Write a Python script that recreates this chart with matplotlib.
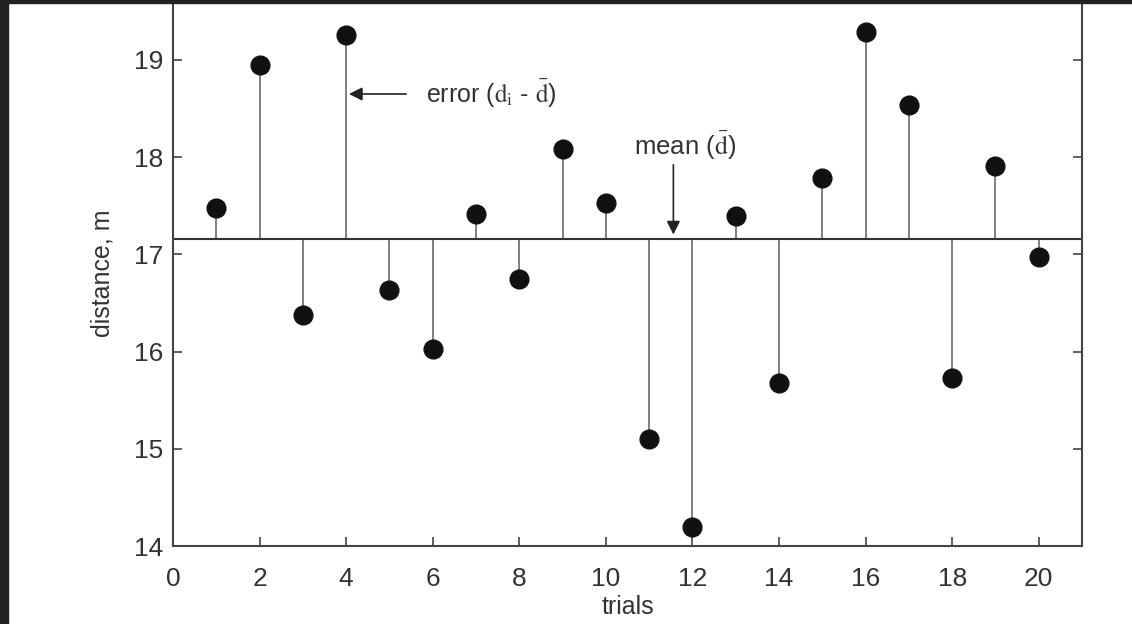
import numpy as np
import matplotlib
matplotlib.use("Agg")
import matplotlib.pyplot as plt
from matplotlib.patches import Rectangle

# distances, one per trial
trials = np.arange(1, 21)
distance = [17.48, 18.95, 16.38, 19.26, 16.63, 16.03, 17.42, 16.75, 18.08, 17.53,
            15.10, 14.20, 17.39, 15.68, 17.79, 19.29, 18.54, 15.73, 17.91, 16.97]
xticks = [0, 2, 4, 6, 8, 10, 12, 14, 16, 18, 20]
yticks = [14, 15, 16, 17, 18, 19]

plt.rcParams["font.family"] = ["Liberation Sans", "DejaVu Sans"]
plt.rcParams["mathtext.fontset"] = "stix"

d = np.array(distance)
mean = d.mean()

fig = plt.figure(figsize=(11.32, 6.24), dpi=100)
ax = fig.add_axes([173 / 1132, 78 / 624, 909 / 1132, 546 / 624])

ax.vlines(trials, mean, d, color="#808080", lw=1.4, zorder=2)
ax.axhline(mean, color="#333333", lw=1.5, zorder=2)
ax.plot(trials, d, "o", color="#111111", ms=13.5, zorder=3)

ax.set_xlim(0, 21)
ax.set_ylim(14, 19.617)
ax.set_xticks(xticks)
ax.set_yticks(yticks)
ax.tick_params(direction="in", length=6.5, width=1.2, labelsize=19, color="#444444",
               right=True)
ax.tick_params(axis="y", pad=7)
ax.tick_params(axis="x", pad=15)
for s in ["left", "right", "bottom"]:
    ax.spines[s].set_color("#444444")
    ax.spines[s].set_linewidth(1.5)
ax.spines["top"].set_visible(False)
ax.set_xlabel("trials", fontsize=18, color="#333333", labelpad=3)
ax.set_ylabel("distance, m", fontsize=18, color="#333333", labelpad=14)
for lab in ax.get_xticklabels() + ax.get_yticklabels():
    lab.set_color("#333333")

# annotations
ax.annotate("", xy=(4.0, 18.65), xytext=(5.45, 18.65),
            arrowprops=dict(arrowstyle="-|>", color="#222222", lw=1.2, mutation_scale=20))
ax.text(5.85, 18.65, r"error ($\mathrm{d}_{\mathrm{i}}$ - $\bar{\mathrm{d}}$)", fontsize=18,
        color="#333333", va="center", ha="left")
ax.annotate("", xy=(11.56, mean + 0.02), xytext=(11.56, 17.95),
            arrowprops=dict(arrowstyle="-|>", color="#222222", lw=1.2, mutation_scale=20))
ax.text(11.82, 18.12, r"mean ($\bar{\mathrm{d}}$)", fontsize=18.5, color="#333333",
        va="center", ha="center")

# dark screenshot border on the left and top
fig.patches.append(Rectangle((0, 0), 8 / 1132, 1, transform=fig.transFigure,
                             color="#222222", zorder=10))
fig.patches.append(Rectangle((0, 1 - 3 / 624), 1, 3 / 624, transform=fig.transFigure,
                             color="#222222", zorder=10))

fig.savefig("out.png", dpi=100, facecolor="white")
